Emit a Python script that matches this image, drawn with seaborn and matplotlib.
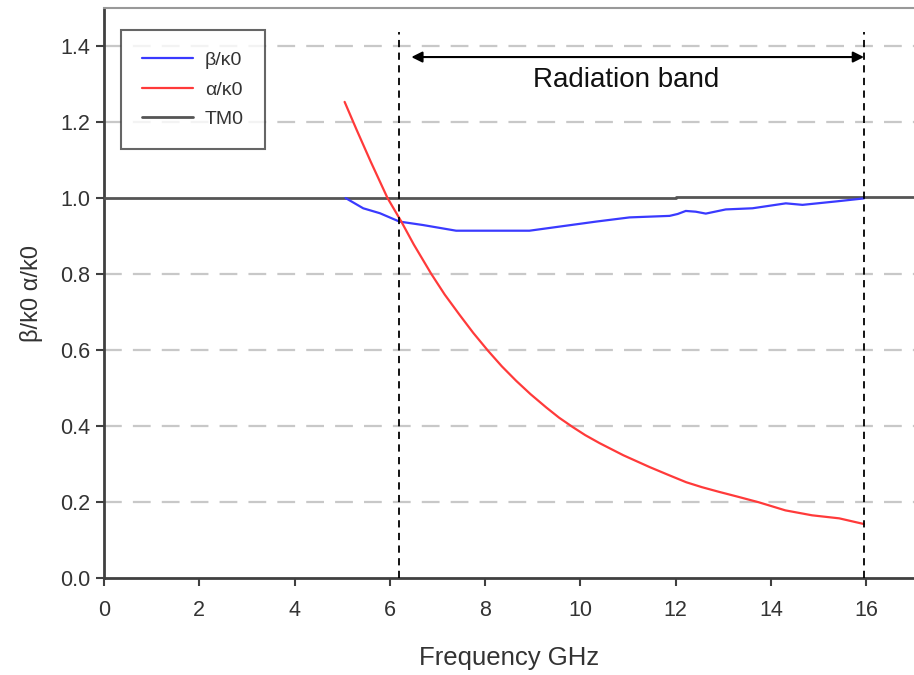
import matplotlib
matplotlib.use("Agg")
import matplotlib.pyplot as plt
import seaborn as sns
import pandas as pd

# ---- data ----
beta_freq = [5.07, 5.44, 5.79, 6.2, 6.69, 7.39, 8.0, 8.93, 9.63, 10.33, 11.03, 11.87,
             12.04, 12.21, 12.42, 12.63, 13.05, 13.61, 14.31, 14.66, 15.36, 15.95]
beta_vals = [1.0, 0.973, 0.96, 0.938, 0.929, 0.914, 0.914, 0.914, 0.926, 0.938, 0.949, 0.953,
             0.958, 0.966, 0.964, 0.959, 0.970, 0.973, 0.986, 0.982, 0.991, 0.999]

alpha_freq = [5.05, 5.3, 5.6, 5.95, 6.24, 6.5, 6.87, 7.15, 7.46, 7.75, 8.06, 8.35, 8.65,
              8.95, 9.28, 9.55, 9.84, 10.1, 10.4, 10.9, 11.45, 11.85, 12.22, 12.55, 12.9,
              13.3, 13.75, 14.3, 14.86, 15.43, 15.95]
alpha_vals = [1.253, 1.18, 1.095, 1.0, 0.938, 0.878, 0.800, 0.746, 0.693, 0.645, 0.598, 0.557,
              0.519, 0.484, 0.449, 0.422, 0.397, 0.376, 0.355, 0.323, 0.292, 0.271, 0.252,
              0.239, 0.227, 0.214, 0.199, 0.178, 0.165, 0.157, 0.142]

tm0_freq = [0.0, 12.0, 12.0, 17.0]
tm0_vals = [1.0, 1.0, 1.004, 1.004]

band_edges = [6.2, 15.95]
band_label = "Radiation band"
x_ticks = [0, 2, 4, 6, 8, 10, 12, 14, 16]
y_ticks = [0.0, 0.2, 0.4, 0.6, 0.8, 1.0, 1.2, 1.4]
series_labels = ["β/κ0", "α/κ0", "TM0"]

sns.set_style("white")
plt.rcParams["font.family"] = ["Liberation Sans", "DejaVu Sans"]

fig = plt.figure(figsize=(9.14, 6.75), dpi=100)
ax = fig.add_axes([0.1138, 0.1437, 0.8862, 0.8444])

# grid lines (drawn first, behind the curves)
for yv in y_ticks:
    if yv in (0.0, 1.0):
        continue
    ax.axhline(yv, color="#c8c8c8", lw=1.6, dashes=(8, 5), zorder=1)

df_b = pd.DataFrame({"f": beta_freq, "v": beta_vals})
df_a = pd.DataFrame({"f": alpha_freq, "v": alpha_vals})
df_t = pd.DataFrame({"f": tm0_freq, "v": tm0_vals})

sns.lineplot(data=df_t, x="f", y="v", ax=ax, color="#555555", lw=2.0,
             estimator=None, sort=False, label=series_labels[2], zorder=3)
sns.lineplot(data=df_b, x="f", y="v", ax=ax, color="#3a3aff", lw=1.6,
             estimator=None, sort=False, label=series_labels[0], zorder=4)
sns.lineplot(data=df_a, x="f", y="v", ax=ax, color="#ff3a3a", lw=1.6,
             estimator=None, sort=False, label=series_labels[1], zorder=5)

# vertical band edges
for xv in band_edges:
    ax.plot([xv, xv], [0, 1.437], color="black", lw=1.3, dashes=(4, 3), zorder=6)

ax.annotate("", xy=(6.45, 1.371), xytext=(band_edges[1], 1.371),
            arrowprops=dict(arrowstyle="<|-|>", color="black", lw=1.5,
                            mutation_scale=16, shrinkA=0, shrinkB=0), zorder=7)
ax.text(10.96, 1.31, band_label, ha="center", va="center", fontsize=20, color="#111111")

ax.set_xlim(0, 17)
ax.set_ylim(0, 1.5)
ax.set_xticks(x_ticks)
ax.set_yticks(y_ticks)
ax.set_yticklabels([f"{v:.1f}" for v in y_ticks])
ax.tick_params(axis="both", which="major", direction="out", length=6, width=1.5,
               color="#404040", labelsize=15.5, labelcolor="#333333",
               left=True, bottom=True)
ax.tick_params(axis="x", pad=10)
ax.tick_params(axis="y", pad=4)
ax.set_xlabel("Frequency GHz", fontsize=18.5, color="#333333", labelpad=18)
ax.set_ylabel("β/k0 α/k0", fontsize=17, color="#333333", labelpad=12)

for side in ("left", "bottom"):
    ax.spines[side].set_color("#404040")
    ax.spines[side].set_linewidth(2)
ax.spines["top"].set_color("#999999")
ax.spines["top"].set_linewidth(1.5)
ax.spines["right"].set_visible(False)

handles, labels = ax.get_legend_handles_labels()
order = [labels.index(s) for s in series_labels]
leg = ax.legend([handles[i] for i in order], [labels[i] for i in order],
                loc="upper left", bbox_to_anchor=(0.021, 0.961), borderaxespad=0,
                fontsize=14, frameon=True, fancybox=False, edgecolor="#404040",
                handlelength=2.6, borderpad=1.1, labelspacing=0.6, handletextpad=0.6)
leg.get_frame().set_linewidth(1.5)
for t in leg.get_texts():
    t.set_color("#333333")

fig.savefig("out.png", dpi=100)
